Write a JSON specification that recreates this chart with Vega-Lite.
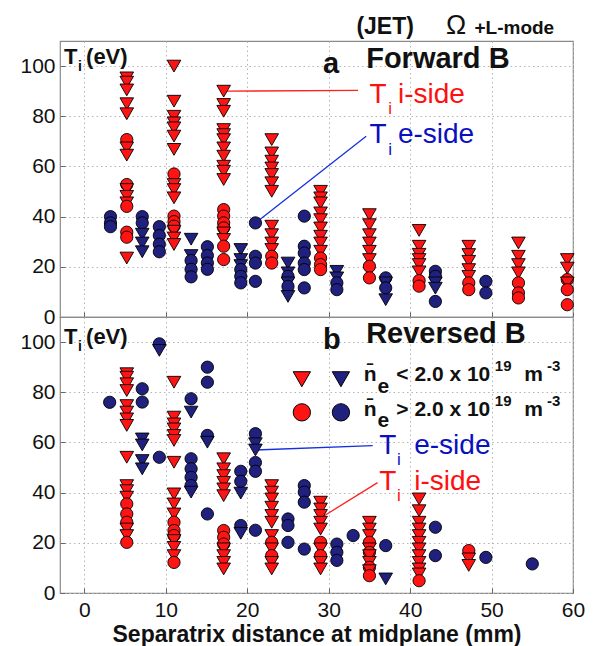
{
  "$schema": "https://vega.github.io/schema/vega-lite/v6.json",
  "padding": {"left": 19, "top": 11, "right": 5, "bottom": 2},
  "background": "white",
  "spacing": 0,
  "bounds": "flush",
  "config": {
    "view": {"stroke": "#8a8a8a", "strokeWidth": 1.2},
    "font": "Liberation Sans",
    "axis": {"grid": true, "gridColor": "#b5b5b5", "gridDash": [1.5, 3], "gridWidth": 1, "ticks": true, "tickSize": -5, "tickColor": "#666", "tickWidth": 1, "domain": false,
      "labelFont": "Liberation Sans", "labelFontSize": 21, "labelColor": "#111", "labelPadding": 10}
  },
  "datasets": {
    "pts": [
      {"p":"a","x":3.2,"y":40,"s":"e","n":"hi"},{"p":"a","x":3.2,"y":37.5,"s":"e","n":"hi"},{"p":"a","x":3.2,"y":36,"s":"e","n":"hi"},
      {"p":"a","x":7.1,"y":40,"s":"e","n":"hi"},{"p":"a","x":7.1,"y":37.5,"s":"e","n":"hi"},{"p":"a","x":7.1,"y":33,"s":"e","n":"lo"},{"p":"a","x":7.1,"y":29.5,"s":"e","n":"lo"},{"p":"a","x":7.1,"y":26,"s":"e","n":"lo"},
      {"p":"a","x":9.2,"y":36,"s":"e","n":"hi"},{"p":"a","x":9.2,"y":32.5,"s":"e","n":"hi"},{"p":"a","x":9.2,"y":29,"s":"e","n":"hi"},{"p":"a","x":9.2,"y":26,"s":"e","n":"hi"},
      {"p":"a","x":13.1,"y":31,"s":"e","n":"lo"},{"p":"a","x":13.1,"y":24.5,"s":"e","n":"lo"},{"p":"a","x":13.1,"y":22.5,"s":"e","n":"hi"},{"p":"a","x":13.1,"y":19,"s":"e","n":"hi"},{"p":"a","x":13.1,"y":16,"s":"e","n":"hi"},
      {"p":"a","x":15.1,"y":28,"s":"e","n":"hi"},{"p":"a","x":15.1,"y":24.5,"s":"e","n":"hi"},{"p":"a","x":15.1,"y":21.5,"s":"e","n":"hi"},{"p":"a","x":15.1,"y":19,"s":"e","n":"hi"},
      {"p":"a","x":19.2,"y":26.9,"s":"e","n":"lo"},{"p":"a","x":19.2,"y":22.9,"s":"e","n":"lo"},{"p":"a","x":19.2,"y":20.5,"s":"e","n":"lo"},{"p":"a","x":19.2,"y":18.9,"s":"e","n":"hi"},{"p":"a","x":19.2,"y":16.2,"s":"e","n":"hi"},{"p":"a","x":19.2,"y":13.6,"s":"e","n":"hi"},
      {"p":"a","x":21.0,"y":37.5,"s":"e","n":"hi"},{"p":"a","x":21.0,"y":24.2,"s":"e","n":"hi"},{"p":"a","x":21.0,"y":21.5,"s":"e","n":"hi"},{"p":"a","x":21.0,"y":14.2,"s":"e","n":"hi"},
      {"p":"a","x":25.0,"y":21.5,"s":"e","n":"lo"},{"p":"a","x":25.0,"y":17.6,"s":"e","n":"lo"},{"p":"a","x":25.0,"y":16.2,"s":"e","n":"hi"},{"p":"a","x":25.0,"y":13.6,"s":"e","n":"lo"},{"p":"a","x":25.0,"y":12.2,"s":"e","n":"hi"},{"p":"a","x":25.0,"y":8.2,"s":"e","n":"lo"},
      {"p":"a","x":27.0,"y":40.2,"s":"e","n":"hi"},{"p":"a","x":27.0,"y":28.2,"s":"e","n":"hi"},{"p":"a","x":27.0,"y":25.5,"s":"e","n":"hi"},{"p":"a","x":27.0,"y":21.5,"s":"e","n":"hi"},{"p":"a","x":27.0,"y":18.9,"s":"e","n":"hi"},{"p":"a","x":27.0,"y":11.6,"s":"e","n":"hi"},
      {"p":"a","x":31.0,"y":18.2,"s":"e","n":"lo"},{"p":"a","x":31.0,"y":15.6,"s":"e","n":"lo"},{"p":"a","x":31.0,"y":13.6,"s":"e","n":"hi"},{"p":"a","x":31.0,"y":10.9,"s":"e","n":"hi"},
      {"p":"a","x":37.0,"y":15.6,"s":"e","n":"hi"},{"p":"a","x":37.0,"y":13.6,"s":"e","n":"lo"},{"p":"a","x":37.0,"y":11.6,"s":"e","n":"hi"},{"p":"a","x":37.0,"y":6.9,"s":"e","n":"lo"},
      {"p":"a","x":43.1,"y":18.2,"s":"e","n":"hi"},{"p":"a","x":43.1,"y":16.2,"s":"e","n":"hi"},{"p":"a","x":43.1,"y":13.6,"s":"e","n":"lo"},{"p":"a","x":43.1,"y":11.5,"s":"e","n":"lo"},{"p":"a","x":43.1,"y":6.2,"s":"e","n":"hi"},
      {"p":"a","x":49.3,"y":14.2,"s":"e","n":"hi"},{"p":"a","x":49.3,"y":9.6,"s":"e","n":"hi"},
      {"p":"a","x":5.2,"y":95.3,"s":"i","n":"lo"},{"p":"a","x":5.2,"y":93.6,"s":"i","n":"lo"},{"p":"a","x":5.2,"y":90.5,"s":"i","n":"lo"},{"p":"a","x":5.2,"y":85,"s":"i","n":"lo"},{"p":"a","x":5.2,"y":81,"s":"i","n":"lo"},{"p":"a","x":5.2,"y":70.7,"s":"i","n":"hi"},{"p":"a","x":5.2,"y":67.4,"s":"i","n":"lo"},{"p":"a","x":5.2,"y":64.5,"s":"i","n":"lo"},{"p":"a","x":5.2,"y":52.8,"s":"i","n":"hi"},{"p":"a","x":5.2,"y":50.8,"s":"i","n":"lo"},{"p":"a","x":5.2,"y":48.1,"s":"i","n":"lo"},{"p":"a","x":5.2,"y":45.5,"s":"i","n":"lo"},{"p":"a","x":5.2,"y":44.1,"s":"i","n":"hi"},{"p":"a","x":5.2,"y":33.8,"s":"i","n":"hi"},{"p":"a","x":5.2,"y":31.8,"s":"i","n":"hi"},{"p":"a","x":5.2,"y":23.5,"s":"i","n":"lo"},
      {"p":"a","x":11.0,"y":100,"s":"i","n":"lo"},{"p":"a","x":11.0,"y":86,"s":"i","n":"lo"},{"p":"a","x":11.0,"y":80,"s":"i","n":"lo"},{"p":"a","x":11.0,"y":77.4,"s":"i","n":"lo"},{"p":"a","x":11.0,"y":75.4,"s":"i","n":"lo"},{"p":"a","x":11.0,"y":72.1,"s":"i","n":"lo"},{"p":"a","x":11.0,"y":66.8,"s":"i","n":"lo"},{"p":"a","x":11.0,"y":57,"s":"i","n":"hi"},{"p":"a","x":11.0,"y":52.8,"s":"i","n":"lo"},{"p":"a","x":11.0,"y":50.8,"s":"i","n":"lo"},{"p":"a","x":11.0,"y":47.5,"s":"i","n":"lo"},{"p":"a","x":11.0,"y":40.2,"s":"i","n":"hi"},{"p":"a","x":11.0,"y":38,"s":"i","n":"hi"},{"p":"a","x":11.0,"y":36.2,"s":"i","n":"hi"},{"p":"a","x":11.0,"y":34.2,"s":"i","n":"lo"},{"p":"a","x":11.0,"y":31.5,"s":"i","n":"lo"},{"p":"a","x":11.0,"y":28.9,"s":"i","n":"lo"},
      {"p":"a","x":17.1,"y":90,"s":"i","n":"lo"},{"p":"a","x":17.1,"y":84.7,"s":"i","n":"lo"},{"p":"a","x":17.1,"y":82,"s":"i","n":"lo"},{"p":"a","x":17.1,"y":74.7,"s":"i","n":"lo"},{"p":"a","x":17.1,"y":72.7,"s":"i","n":"lo"},{"p":"a","x":17.1,"y":70.7,"s":"i","n":"lo"},{"p":"a","x":17.1,"y":67.4,"s":"i","n":"lo"},{"p":"a","x":17.1,"y":64.1,"s":"i","n":"lo"},{"p":"a","x":17.1,"y":60.1,"s":"i","n":"lo"},{"p":"a","x":17.1,"y":58.1,"s":"i","n":"lo"},{"p":"a","x":17.1,"y":54.8,"s":"i","n":"lo"},{"p":"a","x":17.1,"y":42.8,"s":"i","n":"hi"},{"p":"a","x":17.1,"y":40.2,"s":"i","n":"hi"},{"p":"a","x":17.1,"y":37.5,"s":"i","n":"hi"},{"p":"a","x":17.1,"y":35.5,"s":"i","n":"hi"},{"p":"a","x":17.1,"y":33.5,"s":"i","n":"lo"},{"p":"a","x":17.1,"y":30.9,"s":"i","n":"lo"},{"p":"a","x":17.1,"y":28.2,"s":"i","n":"hi"},{"p":"a","x":17.1,"y":22.9,"s":"i","n":"hi"},
      {"p":"a","x":23.0,"y":70.7,"s":"i","n":"lo"},{"p":"a","x":23.0,"y":65.4,"s":"i","n":"lo"},{"p":"a","x":23.0,"y":62.1,"s":"i","n":"lo"},{"p":"a","x":23.0,"y":59.4,"s":"i","n":"lo"},{"p":"a","x":23.0,"y":56.8,"s":"i","n":"lo"},{"p":"a","x":23.0,"y":53.5,"s":"i","n":"lo"},{"p":"a","x":23.0,"y":50.1,"s":"i","n":"lo"},{"p":"a","x":23.0,"y":36.2,"s":"i","n":"lo"},{"p":"a","x":23.0,"y":32.8,"s":"i","n":"lo"},{"p":"a","x":23.0,"y":29.5,"s":"i","n":"lo"},{"p":"a","x":23.0,"y":26.9,"s":"i","n":"lo"},{"p":"a","x":23.0,"y":24.2,"s":"i","n":"hi"},{"p":"a","x":23.0,"y":21.5,"s":"i","n":"hi"},
      {"p":"a","x":29.0,"y":50.1,"s":"i","n":"lo"},{"p":"a","x":29.0,"y":47.5,"s":"i","n":"lo"},{"p":"a","x":29.0,"y":45.5,"s":"i","n":"lo"},{"p":"a","x":29.0,"y":41.5,"s":"i","n":"lo"},{"p":"a","x":29.0,"y":38.8,"s":"i","n":"lo"},{"p":"a","x":29.0,"y":35.5,"s":"i","n":"lo"},{"p":"a","x":29.0,"y":32.2,"s":"i","n":"lo"},{"p":"a","x":29.0,"y":29.5,"s":"i","n":"lo"},{"p":"a","x":29.0,"y":26.2,"s":"i","n":"lo"},{"p":"a","x":29.0,"y":23.5,"s":"i","n":"hi"},{"p":"a","x":29.0,"y":20.9,"s":"i","n":"hi"},{"p":"a","x":29.0,"y":18.9,"s":"i","n":"hi"},
      {"p":"a","x":35.0,"y":40.8,"s":"i","n":"lo"},{"p":"a","x":35.0,"y":36.8,"s":"i","n":"lo"},{"p":"a","x":35.0,"y":32.8,"s":"i","n":"lo"},{"p":"a","x":35.0,"y":29.5,"s":"i","n":"lo"},{"p":"a","x":35.0,"y":26.2,"s":"i","n":"lo"},{"p":"a","x":35.0,"y":22.9,"s":"i","n":"lo"},{"p":"a","x":35.0,"y":20.2,"s":"i","n":"hi"},{"p":"a","x":35.0,"y":15.6,"s":"i","n":"hi"},
      {"p":"a","x":41.1,"y":34.5,"s":"i","n":"lo"},{"p":"a","x":41.1,"y":28.2,"s":"i","n":"lo"},{"p":"a","x":41.1,"y":25,"s":"i","n":"lo"},{"p":"a","x":41.1,"y":22.9,"s":"i","n":"lo"},{"p":"a","x":41.1,"y":20.9,"s":"i","n":"lo"},{"p":"a","x":41.1,"y":18,"s":"i","n":"lo"},{"p":"a","x":41.1,"y":14.5,"s":"i","n":"hi"},{"p":"a","x":41.1,"y":12.3,"s":"i","n":"hi"},
      {"p":"a","x":47.2,"y":28.2,"s":"i","n":"lo"},{"p":"a","x":47.2,"y":24.9,"s":"i","n":"lo"},{"p":"a","x":47.2,"y":22.2,"s":"i","n":"lo"},{"p":"a","x":47.2,"y":18.9,"s":"i","n":"lo"},{"p":"a","x":47.2,"y":16.2,"s":"i","n":"lo"},{"p":"a","x":47.2,"y":13.6,"s":"i","n":"hi"},{"p":"a","x":47.2,"y":10.9,"s":"i","n":"hi"},
      {"p":"a","x":53.3,"y":29.5,"s":"i","n":"lo"},{"p":"a","x":53.3,"y":24.2,"s":"i","n":"lo"},{"p":"a","x":53.3,"y":20.9,"s":"i","n":"lo"},{"p":"a","x":53.3,"y":17.6,"s":"i","n":"lo"},{"p":"a","x":53.3,"y":13.6,"s":"i","n":"hi"},{"p":"a","x":53.3,"y":9.6,"s":"i","n":"hi"},{"p":"a","x":53.3,"y":7.6,"s":"i","n":"hi"},
      {"p":"a","x":59.3,"y":22.9,"s":"i","n":"lo"},{"p":"a","x":59.3,"y":19.5,"s":"i","n":"lo"},{"p":"a","x":59.3,"y":14.9,"s":"i","n":"hi"},{"p":"a","x":59.3,"y":13.6,"s":"i","n":"lo"},{"p":"a","x":59.3,"y":10.9,"s":"i","n":"hi"},{"p":"a","x":59.3,"y":4.9,"s":"i","n":"hi"},

      {"p":"b","x":3.1,"y":76,"s":"e","n":"hi"},
      {"p":"b","x":7.1,"y":81.4,"s":"e","n":"hi"},{"p":"b","x":7.1,"y":76.1,"s":"e","n":"hi"},{"p":"b","x":7.1,"y":61.4,"s":"e","n":"lo"},{"p":"b","x":7.1,"y":59,"s":"e","n":"lo"},{"p":"b","x":7.1,"y":52.8,"s":"e","n":"lo"},{"p":"b","x":7.1,"y":49.5,"s":"e","n":"lo"},
      {"p":"b","x":9.2,"y":99.3,"s":"e","n":"hi"},{"p":"b","x":9.2,"y":96.7,"s":"e","n":"lo"},{"p":"b","x":9.2,"y":54.1,"s":"e","n":"hi"},
      {"p":"b","x":13.1,"y":77.4,"s":"e","n":"hi"},{"p":"b","x":13.1,"y":72.1,"s":"e","n":"lo"},{"p":"b","x":13.1,"y":53.5,"s":"e","n":"hi"},{"p":"b","x":13.1,"y":49.5,"s":"e","n":"hi"},{"p":"b","x":13.1,"y":46.1,"s":"e","n":"hi"},{"p":"b","x":13.1,"y":42.8,"s":"e","n":"hi"},{"p":"b","x":13.1,"y":40.2,"s":"e","n":"lo"},
      {"p":"b","x":15.1,"y":90,"s":"e","n":"hi"},{"p":"b","x":15.1,"y":84,"s":"e","n":"hi"},{"p":"b","x":15.1,"y":62.8,"s":"e","n":"hi"},{"p":"b","x":15.1,"y":60.1,"s":"e","n":"lo"},{"p":"b","x":15.1,"y":31.5,"s":"e","n":"hi"},
      {"p":"b","x":19.2,"y":48.5,"s":"e","n":"hi"},{"p":"b","x":19.2,"y":44.5,"s":"e","n":"hi"},{"p":"b","x":19.2,"y":39.8,"s":"e","n":"lo"},{"p":"b","x":19.2,"y":26.9,"s":"e","n":"hi"},{"p":"b","x":19.2,"y":23.8,"s":"e","n":"lo"},
      {"p":"b","x":21.0,"y":63.5,"s":"e","n":"hi"},{"p":"b","x":21.0,"y":59.5,"s":"e","n":"lo"},{"p":"b","x":21.0,"y":57,"s":"e","n":"lo"},{"p":"b","x":21.0,"y":52,"s":"e","n":"hi"},{"p":"b","x":21.0,"y":48.5,"s":"e","n":"hi"},{"p":"b","x":21.0,"y":25,"s":"e","n":"hi"},
      {"p":"b","x":25.0,"y":29.5,"s":"e","n":"hi"},{"p":"b","x":25.0,"y":26.9,"s":"e","n":"hi"},{"p":"b","x":25.0,"y":20.2,"s":"e","n":"hi"},
      {"p":"b","x":27.0,"y":42.8,"s":"e","n":"hi"},{"p":"b","x":27.0,"y":40.2,"s":"e","n":"hi"},{"p":"b","x":27.0,"y":36.2,"s":"e","n":"hi"},{"p":"b","x":27.0,"y":17.5,"s":"e","n":"hi"},
      {"p":"b","x":31.0,"y":19.5,"s":"e","n":"hi"},{"p":"b","x":31.0,"y":16.2,"s":"e","n":"hi"},{"p":"b","x":31.0,"y":13,"s":"e","n":"hi"},
      {"p":"b","x":33.0,"y":22.9,"s":"e","n":"hi"},
      {"p":"b","x":37.0,"y":18.9,"s":"e","n":"hi"},{"p":"b","x":37.0,"y":5.6,"s":"e","n":"lo"},
      {"p":"b","x":43.1,"y":26.2,"s":"e","n":"hi"},{"p":"b","x":43.1,"y":14.9,"s":"e","n":"hi"},
      {"p":"b","x":49.3,"y":14.2,"s":"e","n":"hi"},
      {"p":"b","x":55.0,"y":11.6,"s":"e","n":"hi"},
      {"p":"b","x":5.2,"y":87.4,"s":"i","n":"lo"},{"p":"b","x":5.2,"y":86,"s":"i","n":"lo"},{"p":"b","x":5.2,"y":83.4,"s":"i","n":"lo"},{"p":"b","x":5.2,"y":80.7,"s":"i","n":"lo"},{"p":"b","x":5.2,"y":74.7,"s":"i","n":"lo"},{"p":"b","x":5.2,"y":72.1,"s":"i","n":"lo"},{"p":"b","x":5.2,"y":69.4,"s":"i","n":"lo"},{"p":"b","x":5.2,"y":66.8,"s":"i","n":"lo"},{"p":"b","x":5.2,"y":54.1,"s":"i","n":"lo"},{"p":"b","x":5.2,"y":42.8,"s":"i","n":"lo"},{"p":"b","x":5.2,"y":40.8,"s":"i","n":"lo"},{"p":"b","x":5.2,"y":38.2,"s":"i","n":"lo"},{"p":"b","x":5.2,"y":35.5,"s":"i","n":"hi"},{"p":"b","x":5.2,"y":31.5,"s":"i","n":"hi"},{"p":"b","x":5.2,"y":28.2,"s":"i","n":"hi"},{"p":"b","x":5.2,"y":25.5,"s":"i","n":"lo"},{"p":"b","x":5.2,"y":22.9,"s":"i","n":"lo"},{"p":"b","x":5.2,"y":20.2,"s":"i","n":"hi"},
      {"p":"b","x":11.0,"y":84,"s":"i","n":"lo"},{"p":"b","x":11.0,"y":70.1,"s":"i","n":"lo"},{"p":"b","x":11.0,"y":67.4,"s":"i","n":"lo"},{"p":"b","x":11.0,"y":65.4,"s":"i","n":"lo"},{"p":"b","x":11.0,"y":62.8,"s":"i","n":"lo"},{"p":"b","x":11.0,"y":60.8,"s":"i","n":"lo"},{"p":"b","x":11.0,"y":52.1,"s":"i","n":"lo"},{"p":"b","x":11.0,"y":39.5,"s":"i","n":"lo"},{"p":"b","x":11.0,"y":35.5,"s":"i","n":"lo"},{"p":"b","x":11.0,"y":31.5,"s":"i","n":"lo"},{"p":"b","x":11.0,"y":28.2,"s":"i","n":"hi"},{"p":"b","x":11.0,"y":24.9,"s":"i","n":"hi"},{"p":"b","x":11.0,"y":22.9,"s":"i","n":"hi"},{"p":"b","x":11.0,"y":20.9,"s":"i","n":"lo"},{"p":"b","x":11.0,"y":18.2,"s":"i","n":"lo"},{"p":"b","x":11.0,"y":14.9,"s":"i","n":"lo"},{"p":"b","x":11.0,"y":12.2,"s":"i","n":"hi"},
      {"p":"b","x":17.1,"y":53.5,"s":"i","n":"lo"},{"p":"b","x":17.1,"y":49.5,"s":"i","n":"lo"},{"p":"b","x":17.1,"y":46.8,"s":"i","n":"lo"},{"p":"b","x":17.1,"y":44.1,"s":"i","n":"lo"},{"p":"b","x":17.1,"y":41.5,"s":"i","n":"lo"},{"p":"b","x":17.1,"y":38.8,"s":"i","n":"lo"},{"p":"b","x":17.1,"y":24.9,"s":"i","n":"hi"},{"p":"b","x":17.1,"y":22.2,"s":"i","n":"hi"},{"p":"b","x":17.1,"y":19.5,"s":"i","n":"hi"},{"p":"b","x":17.1,"y":17.6,"s":"i","n":"lo"},{"p":"b","x":17.1,"y":14.9,"s":"i","n":"lo"},{"p":"b","x":17.1,"y":12.2,"s":"i","n":"lo"},{"p":"b","x":17.1,"y":9.6,"s":"i","n":"lo"},
      {"p":"b","x":23.0,"y":42.8,"s":"i","n":"lo"},{"p":"b","x":23.0,"y":40.2,"s":"i","n":"lo"},{"p":"b","x":23.0,"y":37.5,"s":"i","n":"lo"},{"p":"b","x":23.0,"y":34.2,"s":"i","n":"lo"},{"p":"b","x":23.0,"y":30.9,"s":"i","n":"lo"},{"p":"b","x":23.0,"y":28.2,"s":"i","n":"lo"},{"p":"b","x":23.0,"y":22.9,"s":"i","n":"lo"},{"p":"b","x":23.0,"y":20.2,"s":"i","n":"hi"},{"p":"b","x":23.0,"y":17.6,"s":"i","n":"lo"},{"p":"b","x":23.0,"y":14.9,"s":"i","n":"hi"},{"p":"b","x":23.0,"y":12.2,"s":"i","n":"lo"},{"p":"b","x":23.0,"y":9.6,"s":"i","n":"lo"},
      {"p":"b","x":29.0,"y":36.2,"s":"i","n":"lo"},{"p":"b","x":29.0,"y":33.5,"s":"i","n":"lo"},{"p":"b","x":29.0,"y":30.9,"s":"i","n":"lo"},{"p":"b","x":29.0,"y":28.2,"s":"i","n":"lo"},{"p":"b","x":29.0,"y":25.5,"s":"i","n":"lo"},{"p":"b","x":29.0,"y":20.2,"s":"i","n":"hi"},{"p":"b","x":29.0,"y":17.6,"s":"i","n":"lo"},{"p":"b","x":29.0,"y":14.9,"s":"i","n":"hi"},{"p":"b","x":29.0,"y":12.2,"s":"i","n":"lo"},{"p":"b","x":29.0,"y":9.6,"s":"i","n":"lo"},
      {"p":"b","x":35.0,"y":28.2,"s":"i","n":"lo"},{"p":"b","x":35.0,"y":25.5,"s":"i","n":"lo"},{"p":"b","x":35.0,"y":22.9,"s":"i","n":"lo"},{"p":"b","x":35.0,"y":20.2,"s":"i","n":"hi"},{"p":"b","x":35.0,"y":17.6,"s":"i","n":"lo"},{"p":"b","x":35.0,"y":16.2,"s":"i","n":"hi"},{"p":"b","x":35.0,"y":14.9,"s":"i","n":"lo"},{"p":"b","x":35.0,"y":12.2,"s":"i","n":"lo"},{"p":"b","x":35.0,"y":10.2,"s":"i","n":"hi"},{"p":"b","x":35.0,"y":8.9,"s":"i","n":"lo"},{"p":"b","x":35.0,"y":6.9,"s":"i","n":"hi"},
      {"p":"b","x":41.1,"y":37.5,"s":"i","n":"lo"},{"p":"b","x":41.1,"y":32.8,"s":"i","n":"lo"},{"p":"b","x":41.1,"y":28.2,"s":"i","n":"lo"},{"p":"b","x":41.1,"y":25.5,"s":"i","n":"lo"},{"p":"b","x":41.1,"y":22.9,"s":"i","n":"lo"},{"p":"b","x":41.1,"y":20.2,"s":"i","n":"lo"},{"p":"b","x":41.1,"y":17.6,"s":"i","n":"lo"},{"p":"b","x":41.1,"y":14.9,"s":"i","n":"lo"},{"p":"b","x":41.1,"y":12.2,"s":"i","n":"lo"},{"p":"b","x":41.1,"y":9.6,"s":"i","n":"lo"},{"p":"b","x":41.1,"y":7.6,"s":"i","n":"lo"},{"p":"b","x":41.1,"y":4.9,"s":"i","n":"hi"},
      {"p":"b","x":47.2,"y":16.9,"s":"i","n":"hi"},{"p":"b","x":47.2,"y":13.6,"s":"i","n":"lo"},{"p":"b","x":47.2,"y":11,"s":"i","n":"lo"}
    ],
    "leg": [
      {"p":"b","x":26.7,"y":85.2,"s":"i","n":"lo"},{"p":"b","x":31.5,"y":85.2,"s":"e","n":"lo"},
      {"p":"b","x":26.7,"y":72,"s":"i","n":"hi"},{"p":"b","x":31.5,"y":72,"s":"e","n":"hi"}
    ],
    "ln": [
      {"p":"a","s":"i","x":17.3,"y":90,"x2":33.6,"y2":90.3},
      {"p":"a","s":"e","x":21.0,"y":37.5,"x2":34.6,"y2":72},
      {"p":"b","s":"e","x":21.0,"y":57,"x2":35.4,"y2":58.7},
      {"p":"b","s":"i","x":29.3,"y":30.5,"x2":36.0,"y2":44}
    ],
    "tx": [
      {"p":"a","k":"hdr","t":"(JET)","x":33.4,"y":112.6},
      {"p":"a","k":"om","t":"Ω","x":44.4,"y":112.6},
      {"p":"a","k":"mode","t":"+L-mode","x":47.9,"y":112.6},
      {"p":"a","k":"big","t":"a","x":29.3,"y":97.4},
      {"p":"a","k":"big","t":"Forward B","x":34.6,"y":99.4},
      {"p":"b","k":"big","t":"b","x":29.3,"y":97.2},
      {"p":"b","k":"big","t":"Reversed B","x":34.6,"y":99.8},
      {"p":"a","k":"ylab","t":"T","x":-2.5,"y":100.7},
      {"p":"a","k":"ysub","t":"i","x":-0.8,"y":98.0},
      {"p":"a","k":"ylab","t":"(eV)","x":0.2,"y":100.7},
      {"p":"b","k":"ylab","t":"T","x":-2.5,"y":99.2},
      {"p":"b","k":"ysub","t":"i","x":-0.8,"y":96.5},
      {"p":"b","k":"ylab","t":"(eV)","x":0.2,"y":99.2},
      {"p":"a","k":"side","s":"i","t":"T","x":35.0,"y":85.4},
      {"p":"a","k":"sidesub","s":"i","t":"i","x":37.3,"y":80.8},
      {"p":"a","k":"side","s":"i","t":"i-side","x":38.5,"y":85.4},
      {"p":"a","k":"side","s":"e","t":"T","x":35.0,"y":69.3},
      {"p":"a","k":"sidesub","s":"e","t":"i","x":37.3,"y":64.7},
      {"p":"a","k":"side","s":"e","t":"e-side","x":38.5,"y":69.3},
      {"p":"b","k":"side","s":"e","t":"T","x":36.2,"y":55.2},
      {"p":"b","k":"sidesub","s":"e","t":"i","x":38.4,"y":51.0},
      {"p":"b","k":"side","s":"e","t":"e-side","x":40.5,"y":55.2},
      {"p":"b","k":"side","s":"i","t":"T","x":36.2,"y":40.9},
      {"p":"b","k":"sidesub","s":"i","t":"i","x":38.4,"y":36.5},
      {"p":"b","k":"side","s":"i","t":"i-side","x":40.5,"y":40.9},
      {"p":"b","k":"leg","t":"n̄","x":34.3,"y":84.6},
      {"p":"b","k":"leg","t":"e","x":36.0,"y":79.9},
      {"p":"b","k":"leg","t":"< 2.0 x 10","x":38.3,"y":84.6},
      {"p":"b","k":"legsup","t":"19","x":50.4,"y":88.6},
      {"p":"b","k":"leg","t":"m","x":54.0,"y":84.6},
      {"p":"b","k":"legsup","t":"-3","x":56.8,"y":88.6},
      {"p":"b","k":"leg","t":"n̄","x":34.3,"y":70.6},
      {"p":"b","k":"leg","t":"e","x":36.0,"y":66.0},
      {"p":"b","k":"leg","t":"> 2.0 x 10","x":38.3,"y":70.6},
      {"p":"b","k":"legsup","t":"19","x":50.4,"y":74.6},
      {"p":"b","k":"leg","t":"m","x":54.0,"y":70.6},
      {"p":"b","k":"legsup","t":"-3","x":56.8,"y":74.6}
    ]
  },
  "vconcat": [
    {
      "width": 513, "height": 276,
      "encoding": {
        "x": {"field": "x", "type": "quantitative", "scale": {"domain": [-3, 60], "nice": false, "zero": false},
              "axis": {"values": [0,10,20,30,40,50,60], "labels": false, "title": null, "labelPadding": 0, "minExtent": 0, "maxExtent": 0}},
        "y": {"field": "y", "type": "quantitative", "scale": {"domain": [0, 110], "nice": false},
              "axis": {"values": [0,20,40,60,80,100], "title": null}}
      },
      "layer": [
        {"data": {"name": "ln"}, "transform": [{"filter": "datum.p==='a'"}],
         "mark": {"type": "rule", "strokeWidth": 1.3},
         "encoding": {"x2": {"field": "x2"}, "y2": {"field": "y2"},
           "color": {"condition": {"test": "datum.s==='i'", "value": "#ff2020"}, "value": "#1530e0"}}},
        {"data": {"name": "pts"}, "transform": [{"filter": "datum.p==='a'"}],
         "mark": {"type": "point", "filled": true, "stroke": "black", "strokeWidth": 0.9, "opacity": 1},
         "encoding": {
           "fill": {"field": "s", "type": "nominal", "scale": {"domain": ["i","e"], "range": ["#ff1414", "#20207e"]}, "legend": null},
           "shape": {"field": "n", "type": "nominal", "scale": {"domain": ["lo","hi"], "range": ["triangle-down", "circle"]}, "legend": null},
           "size": {"field": "n", "type": "nominal", "scale": {"domain": ["lo","hi"], "range": [185, 150]}, "legend": null}
         }},
        {"data": {"name": "tx"}, "transform": [{"filter": "datum.p==='a' && datum.k==='hdr'"}],
         "mark": {"type": "text", "align": "left", "baseline": "alphabetic", "fontSize": 23, "fontWeight": "bold", "color": "#111"},
         "encoding": {"text": {"field": "t"}}},
        {"data": {"name": "tx"}, "transform": [{"filter": "datum.p==='a' && datum.k==='om'"}],
         "mark": {"type": "text", "align": "left", "baseline": "alphabetic", "fontSize": 27, "color": "#111"},
         "encoding": {"text": {"field": "t"}}},
        {"data": {"name": "tx"}, "transform": [{"filter": "datum.p==='a' && datum.k==='mode'"}],
         "mark": {"type": "text", "align": "left", "baseline": "alphabetic", "fontSize": 19, "fontWeight": "bold", "color": "#111"},
         "encoding": {"text": {"field": "t"}}},
        {"data": {"name": "tx"}, "transform": [{"filter": "datum.p==='a' && datum.k==='big'"}],
         "mark": {"type": "text", "align": "left", "baseline": "alphabetic", "fontSize": 29, "fontWeight": "bold", "color": "#111"},
         "encoding": {"text": {"field": "t"}}},
        {"data": {"name": "tx"}, "transform": [{"filter": "datum.p==='a' && datum.k==='ylab'"}],
         "mark": {"type": "text", "align": "left", "baseline": "alphabetic", "fontSize": 22, "fontWeight": "bold", "color": "#111"},
         "encoding": {"text": {"field": "t"}}},
        {"data": {"name": "tx"}, "transform": [{"filter": "datum.p==='a' && datum.k==='ysub'"}],
         "mark": {"type": "text", "align": "left", "baseline": "alphabetic", "fontSize": 14, "fontWeight": "bold", "color": "#111"},
         "encoding": {"text": {"field": "t"}}},
        {"data": {"name": "tx"}, "transform": [{"filter": "datum.p==='a' && datum.k==='side'"}],
         "mark": {"type": "text", "align": "left", "baseline": "alphabetic", "fontSize": 28},
         "encoding": {"text": {"field": "t"}, "color": {"condition": {"test": "datum.s==='i'", "value": "#ff1010"}, "value": "#0a10c0"}}},
        {"data": {"name": "tx"}, "transform": [{"filter": "datum.p==='a' && datum.k==='sidesub'"}],
         "mark": {"type": "text", "align": "left", "baseline": "alphabetic", "fontSize": 17},
         "encoding": {"text": {"field": "t"}, "color": {"condition": {"test": "datum.s==='i'", "value": "#ff1010"}, "value": "#0a10c0"}}}
      ]
    },
    {
      "width": 513, "height": 276,
      "encoding": {
        "x": {"field": "x", "type": "quantitative", "scale": {"domain": [-3, 60], "nice": false, "zero": false},
              "axis": {"values": [0,10,20,30,40,50,60], "labelFlush": false, "labelPadding": 11,
                       "title": "Separatrix distance at midplane (mm)", "titleFontSize": 23, "titleFontWeight": "bold",
                       "titleColor": "#111", "titlePadding": 3, "titleFont": "Liberation Sans"}},
        "y": {"field": "y", "type": "quantitative", "scale": {"domain": [0, 110], "nice": false},
              "axis": {"values": [0,20,40,60,80,100], "title": null}}
      },
      "layer": [
        {"data": {"name": "ln"}, "transform": [{"filter": "datum.p==='b'"}],
         "mark": {"type": "rule", "strokeWidth": 1.3},
         "encoding": {"x2": {"field": "x2"}, "y2": {"field": "y2"},
           "color": {"condition": {"test": "datum.s==='i'", "value": "#ff2020"}, "value": "#1530e0"}}},
        {"data": {"name": "pts"}, "transform": [{"filter": "datum.p==='b'"}],
         "mark": {"type": "point", "filled": true, "stroke": "black", "strokeWidth": 0.9, "opacity": 1},
         "encoding": {
           "fill": {"field": "s", "type": "nominal", "scale": {"domain": ["i","e"], "range": ["#ff1414", "#20207e"]}, "legend": null},
           "shape": {"field": "n", "type": "nominal", "scale": {"domain": ["lo","hi"], "range": ["triangle-down", "circle"]}, "legend": null},
           "size": {"field": "n", "type": "nominal", "scale": {"domain": ["lo","hi"], "range": [185, 150]}, "legend": null}
         }},
        {"data": {"name": "leg"}, "transform": [{"filter": "datum.p==='b'"}],
         "mark": {"type": "point", "filled": true, "stroke": "black", "strokeWidth": 1, "opacity": 1, "size": 300},
         "encoding": {
           "fill": {"field": "s", "type": "nominal", "legend": null},
           "shape": {"field": "n", "type": "nominal", "legend": null}
         }},
        {"data": {"name": "tx"}, "transform": [{"filter": "datum.p==='b' && datum.k==='big'"}],
         "mark": {"type": "text", "align": "left", "baseline": "alphabetic", "fontSize": 29, "fontWeight": "bold", "color": "#111"},
         "encoding": {"text": {"field": "t"}}},
        {"data": {"name": "tx"}, "transform": [{"filter": "datum.p==='b' && datum.k==='ylab'"}],
         "mark": {"type": "text", "align": "left", "baseline": "alphabetic", "fontSize": 22, "fontWeight": "bold", "color": "#111"},
         "encoding": {"text": {"field": "t"}}},
        {"data": {"name": "tx"}, "transform": [{"filter": "datum.p==='b' && datum.k==='ysub'"}],
         "mark": {"type": "text", "align": "left", "baseline": "alphabetic", "fontSize": 14, "fontWeight": "bold", "color": "#111"},
         "encoding": {"text": {"field": "t"}}},
        {"data": {"name": "tx"}, "transform": [{"filter": "datum.p==='b' && datum.k==='side'"}],
         "mark": {"type": "text", "align": "left", "baseline": "alphabetic", "fontSize": 28},
         "encoding": {"text": {"field": "t"}, "color": {"condition": {"test": "datum.s==='i'", "value": "#ff1010"}, "value": "#0a10c0"}}},
        {"data": {"name": "tx"}, "transform": [{"filter": "datum.p==='b' && datum.k==='sidesub'"}],
         "mark": {"type": "text", "align": "left", "baseline": "alphabetic", "fontSize": 17},
         "encoding": {"text": {"field": "t"}, "color": {"condition": {"test": "datum.s==='i'", "value": "#ff1010"}, "value": "#0a10c0"}}},
        {"data": {"name": "tx"}, "transform": [{"filter": "datum.p==='b' && datum.k==='leg'"}],
         "mark": {"type": "text", "align": "left", "baseline": "alphabetic", "fontSize": 21, "fontWeight": "bold", "color": "#111"},
         "encoding": {"text": {"field": "t"}}},
        {"data": {"name": "tx"}, "transform": [{"filter": "datum.p==='b' && datum.k==='legsup'"}],
         "mark": {"type": "text", "align": "left", "baseline": "alphabetic", "fontSize": 15, "fontWeight": "bold", "color": "#111"},
         "encoding": {"text": {"field": "t"}}}
      ]
    }
  ]
}
